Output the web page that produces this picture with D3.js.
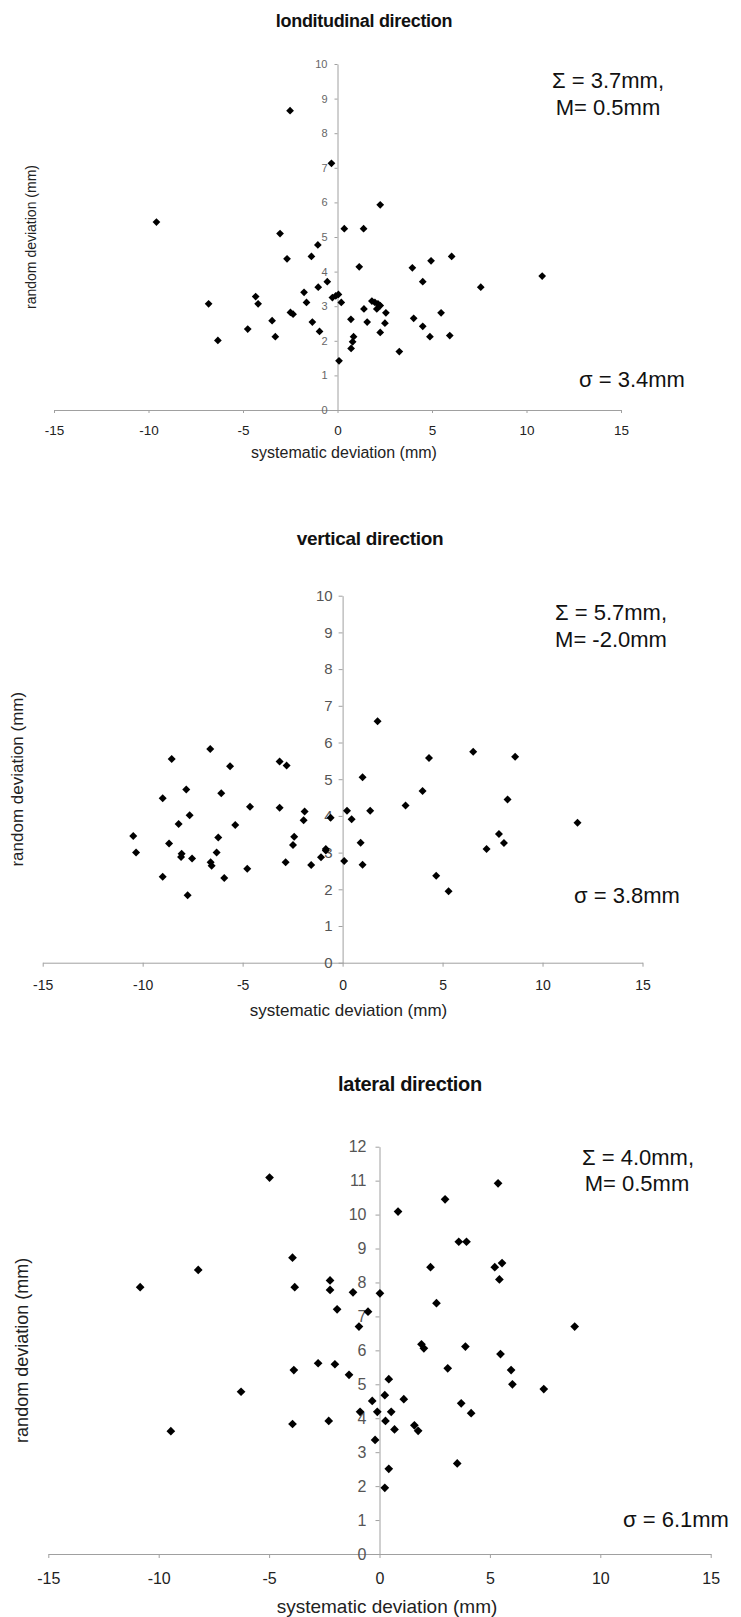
<!DOCTYPE html>
<html><head><meta charset="utf-8">
<script src="https://cdn.jsdelivr.net/npm/d3@7"></script>
<style>body{margin:0;background:#fff;} svg{display:block;} text{font-family:"Liberation Sans",Arial,sans-serif;}</style>
</head><body>
<svg id="c" width="741" height="1617"></svg>
<script>
// ---------- data ----------
const titles = ["londitudinal direction", "vertical direction", "lateral direction"];
const sysTexts = ["\u03A3 = 3.7mm,", "\u03A3 = 5.7mm,", "\u03A3 = 4.0mm,"];
const meanTexts = ["M= 0.5mm", "M= -2.0mm", "M= 0.5mm"];
const randTexts = ["\u03C3 = 3.4mm", "\u03C3 = 3.8mm", "\u03C3 = 6.1mm"];
const xTitle = "systematic deviation (mm)";
const yTitle = "random deviation (mm)";
const xTicks = [-15, -10, -5, 0, 5, 10, 15];
const yTicks10 = [0, 1, 2, 3, 4, 5, 6, 7, 8, 9, 10];
const yTicks12 = [0, 1, 2, 3, 4, 5, 6, 7, 8, 9, 10, 11, 12];

const longX = [-9.58,-2.51,-0.32,-6.82,-6.33,-4.75,-4.33,-4.20,-3.46,-3.29,-3.04,-2.67,-2.49,-2.35,-1.77,-1.64,-1.38,-1.33,-1.04,-1.02,-0.95,-0.54,-0.27,-0.09,0.05,0.08,0.20,0.36,0.71,0.72,0.80,0.85,1.15,1.38,1.40,1.57,1.82,1.98,2.08,2.14,2.26,2.26,2.26,2.51,2.56,3.27,3.96,4.03,4.51,4.51,4.89,4.95,5.48,5.94,6.04,7.58,10.83];
const longY = [5.43,8.65,7.13,3.07,2.01,2.34,3.28,3.07,2.58,2.12,5.10,4.37,2.82,2.77,3.40,3.11,4.44,2.54,4.77,3.55,2.27,3.71,3.25,3.30,3.34,1.42,3.11,5.24,2.62,1.78,1.97,2.12,4.14,5.24,2.92,2.54,3.15,3.11,2.92,3.07,5.93,2.24,3.02,2.51,2.81,1.69,4.11,2.65,3.71,2.42,2.12,4.31,2.81,2.15,4.44,3.55,3.87];

const vertX = [-10.47,-10.33,-9.00,-9.00,-8.68,-8.55,-8.20,-8.08,-8.05,-7.82,-7.75,-7.65,-7.53,-6.62,-6.60,-6.55,-6.30,-6.22,-6.07,-5.92,-5.63,-5.37,-4.77,-4.63,-3.15,-3.15,-2.85,-2.80,-2.48,-2.42,-1.95,-1.90,-1.57,-1.08,-0.84,-0.84,-0.60,0.08,0.22,0.45,0.90,1.00,1.00,1.38,1.75,3.15,4.00,4.32,4.68,5.30,6.53,7.20,7.82,8.07,8.25,8.63,11.75];
const vertY = [3.45,3.00,4.48,2.34,3.25,5.55,3.78,2.88,2.97,4.72,1.84,4.02,2.84,5.82,2.74,2.64,3.00,3.41,4.62,2.31,5.35,3.75,2.56,4.25,5.48,4.22,2.74,5.37,3.21,3.43,3.88,4.12,2.66,2.87,3.10,3.06,3.95,2.77,4.14,3.91,3.27,5.05,2.67,4.14,6.58,4.28,4.68,5.58,2.37,1.95,5.75,3.10,3.51,3.26,4.45,5.61,3.81];

const latX = [-10.84,-8.21,-9.45,-6.27,-4.98,-3.94,-3.84,-3.88,-3.94,-2.78,-2.30,-2.24,-2.24,-2.02,-1.92,-1.38,-1.20,-0.93,-0.88,-0.52,-0.33,-0.20,-0.10,0.02,0.24,0.27,0.24,0.42,0.42,0.53,0.68,0.84,1.10,1.58,1.75,1.90,2.01,2.31,2.58,2.97,3.09,3.52,3.59,3.70,3.89,3.94,4.15,5.22,5.37,5.43,5.55,5.48,5.96,6.02,7.44,8.84];
const latY = [7.86,8.37,3.62,4.78,11.09,8.73,7.86,5.42,3.83,5.62,3.92,8.06,7.78,5.59,7.21,5.28,7.71,6.70,4.19,7.14,4.51,3.36,4.19,7.68,4.68,3.92,1.95,5.15,2.51,4.19,3.67,10.09,4.56,3.79,3.63,6.18,6.06,8.45,7.39,10.45,5.47,2.67,9.20,4.44,6.11,9.20,4.15,8.45,10.92,8.09,8.57,5.89,5.42,5.00,4.86,6.70];

const seriesX = [longX, vertX, latX];
const seriesY = [longY, vertY, latY];
const yTickSets = [yTicks10, yTicks10, yTicks12];

// ---------- layout (positions & styles) ----------
const layouts = [
  {x0:54, x1:621, yTop:64, yBot:410, xTickFs:13.5, xPad:12, yTickFs:11, yPad:7, yTickCol:"#666", tickLen:3,
   xTitleFs:16, xTitleX:344, xTitleY:452, yTitleFs:14, yTitleX:31,
   titleFs:18, titleX:364, titleY:27, annFs:22, sysX:608, sysY:88, meanX:608, meanY:115, randX:632, randY:387, mark:30},
  {x0:42.7, x1:642.5, yTop:595.7, yBot:962.7, xTickFs:14, xPad:13, yTickFs:15, yPad:6, yTickCol:"#555", tickLen:4,
   xTitleFs:17, xTitleX:348.5, xTitleY:1010, yTitleFs:17, yTitleX:17,
   titleFs:19, titleX:370, titleY:545, annFs:22, sysX:611, sysY:620, meanX:611, meanY:647, randX:627, randY:903, mark:32},
  {x0:48.3, x1:710.7, yTop:1146.7, yBot:1554, xTickFs:16, xPad:15, yTickFs:16, yPad:9, yTickCol:"#555", tickLen:4,
   xTitleFs:19, xTitleX:387, xTitleY:1606, yTitleFs:18, yTitleX:21.7,
   titleFs:20, titleX:410, titleY:1091, annFs:22, sysX:638, sysY:1165, meanX:637, meanY:1191, randX:676, randY:1527, mark:38}
];

const svg = d3.select("#c");
const axisCol = "#a0a0a0";
const fmt = d => String(d);

layouts.forEach((L, i) => {
  const yT = yTickSets[i];
  const x = d3.scaleLinear().domain([xTicks[0], xTicks[xTicks.length-1]]).range([L.x0, L.x1]);
  const y = d3.scaleLinear().domain([0, yT[yT.length-1]]).range([L.yBot, L.yTop]);
  const g = svg.append("g");

  // x axis
  const gx = g.append("g").attr("transform", `translate(0,${L.yBot})`)
    .call(d3.axisBottom(x).tickValues(xTicks).tickSize(L.tickLen).tickSizeOuter(0).tickPadding(L.xPad).tickFormat(fmt));
  gx.select(".domain").attr("stroke", axisCol);
  gx.selectAll(".tick line").attr("stroke", axisCol);
  gx.selectAll("text").attr("font-size", L.xTickFs).attr("fill", "#222")
    .attr("font-family", "'Liberation Sans',Arial,sans-serif");

  // y axis at x = 0
  const gy = g.append("g").attr("transform", `translate(${x(0)},0)`)
    .call(d3.axisLeft(y).tickValues(yT).tickSize(L.tickLen).tickSizeOuter(0).tickPadding(L.yPad).tickFormat(fmt));
  gy.select(".domain").attr("stroke", axisCol);
  gy.selectAll(".tick line").attr("stroke", axisCol);
  gy.selectAll("text").attr("font-size", L.yTickFs).attr("fill", L.yTickCol)
    .attr("font-family", "'Liberation Sans',Arial,sans-serif");

  // markers
  const sym = d3.symbol().type(d3.symbolSquare).size(L.mark);
  g.append("g").selectAll("path").data(d3.range(seriesX[i].length)).join("path")
    .attr("d", sym)
    .attr("transform", k => `translate(${x(seriesX[i][k])},${y(seriesY[i][k])}) rotate(45)`)
    .attr("fill", "#000");

  // titles
  g.append("text").attr("x", L.titleX).attr("y", L.titleY).attr("text-anchor", "middle")
    .attr("font-size", L.titleFs).attr("font-weight", "bold").attr("letter-spacing", "-0.3px").attr("fill", "#111").text(titles[i]);
  g.append("text").attr("x", L.xTitleX).attr("y", L.xTitleY).attr("text-anchor", "middle")
    .attr("dominant-baseline", "central").attr("font-size", L.xTitleFs).attr("fill", "#222").text(xTitle);
  g.append("text").attr("transform", `translate(${L.yTitleX},${(L.yTop + L.yBot) / 2}) rotate(-90)`)
    .attr("text-anchor", "middle").attr("dominant-baseline", "central")
    .attr("font-size", L.yTitleFs).attr("fill", "#222").text(yTitle);

  // annotations
  g.append("text").attr("x", L.sysX).attr("y", L.sysY).attr("text-anchor", "middle")
    .attr("font-size", L.annFs).attr("fill", "#111").text(sysTexts[i]);
  g.append("text").attr("x", L.meanX).attr("y", L.meanY).attr("text-anchor", "middle")
    .attr("font-size", L.annFs).attr("fill", "#111").text(meanTexts[i]);
  g.append("text").attr("x", L.randX).attr("y", L.randY).attr("text-anchor", "middle")
    .attr("font-size", L.annFs).attr("fill", "#111").text(randTexts[i]);
});
</script>
</body></html>
